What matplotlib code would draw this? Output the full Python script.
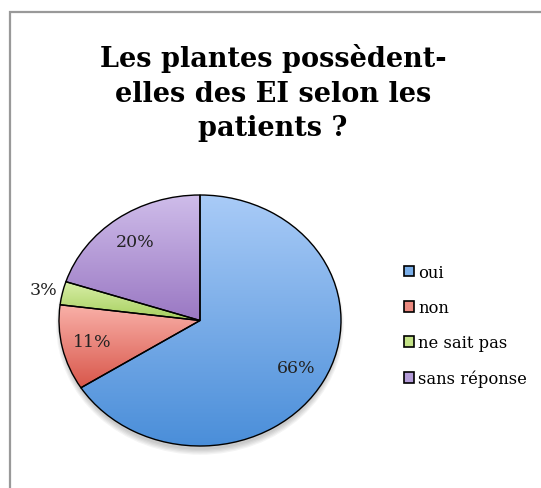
import numpy as np
import matplotlib
matplotlib.use("Agg")
import matplotlib.pyplot as plt
from matplotlib.colors import LinearSegmentedColormap
from matplotlib.patches import Rectangle, Ellipse

categories = ["oui", "non", "ne sait pas", "sans réponse"]
values = [66, 11, 3, 20]
pct_labels = ["66%", "11%", "3%", "20%"]
# light (top) / dark (bottom) of each slice gradient
top_colors = ["#a9cbf7", "#f9b0a8", "#d9efa8", "#cfbdea"]
bot_colors = ["#4a8ed9", "#d8564a", "#a6cf5e", "#9a78c3"]
legend_colors = ["#7aaee8", "#ec8a80", "#c3e286", "#b49cd8"]
title = "Les plantes possèdent-\nelles des EI selon les\npatients ?"

fig = plt.figure(figsize=(5.41, 4.89), dpi=100)
W, H = 541, 489

# chart frame (clipped at right / bottom like the screenshot)
fig.patches.append(Rectangle((10 / W, -0.1), 1.2, 1 - 13 / H + 0.1,
                             transform=fig.transFigure, fill=False,
                             edgecolor="#999999", linewidth=1.6))

fig.text(273 / W, 1 - 93 / H, title, ha="center", va="center",
         fontsize=19.5, fontweight="bold", family="DejaVu Serif",
         linespacing=1.38)

# pie axes = bounding box of the (slightly squashed) pie
ax = fig.add_axes([59 / W, (H - 447) / H, 282 / W, 251 / H])
wedges, texts, autotexts = ax.pie(values, startangle=90, counterclock=False,
                                  autopct="%1.0f%%", pctdistance=0.78,
                                  wedgeprops=dict(edgecolor="black", linewidth=1.0),
                                  textprops=dict(fontsize=12.5, family="DejaVu Serif",
                                                 color="#222222"))
ax.set_aspect("auto")
ax.axis("off")

# soft shadow under the pie
for k in range(5):
    sh = Ellipse((0, -0.04), 1.98 + 0.015 * k, 1.98 + 0.02 * k, facecolor="black",
                 alpha=0.045, edgecolor="none", zorder=0, clip_on=False)
    ax.add_patch(sh)

grad = np.linspace(0, 1, 256).reshape(-1, 1)
for w, c1, c2, at, lab in zip(wedges, top_colors, bot_colors, autotexts, pct_labels):
    w.set_facecolor("none")
    w.set_zorder(3)
    w.set_clip_on(False)
    verts = w.get_path().vertices
    x0, x1 = verts[:, 0].min(), verts[:, 0].max()
    y0, y1 = verts[:, 1].min(), verts[:, 1].max()
    cmap = LinearSegmentedColormap.from_list("g", [c1, c2])
    im = ax.imshow(grad, cmap=cmap, extent=[x0, x1, y0, y1], aspect="auto",
                   zorder=2, interpolation="bilinear")
    im.set_clip_path(w)
    at.set_text(lab)
    at.set_zorder(5)

ax.set_xlim(-1, 1)
ax.set_ylim(-1, 1)

# small slice label sits outside
th = np.deg2rad((wedges[2].theta1 + wedges[2].theta2) / 2)
autotexts[2].set_position((1.14 * np.cos(th), 1.14 * np.sin(th)))

leg = fig.legend(wedges, categories, loc="upper left",
                 bbox_to_anchor=(389 / W, 1 - 250 / H), frameon=False,
                 prop=dict(family="DejaVu Serif", size=11.8),
                 handlelength=0.65, handleheight=0.65, handletextpad=0.25,
                 labelspacing=1.12)
for h, c in zip(leg.legend_handles, legend_colors):
    h.set_facecolor(c)
    h.set_edgecolor("black")
    h.set_linewidth(1.2)

fig.savefig("out.png", dpi=100)
